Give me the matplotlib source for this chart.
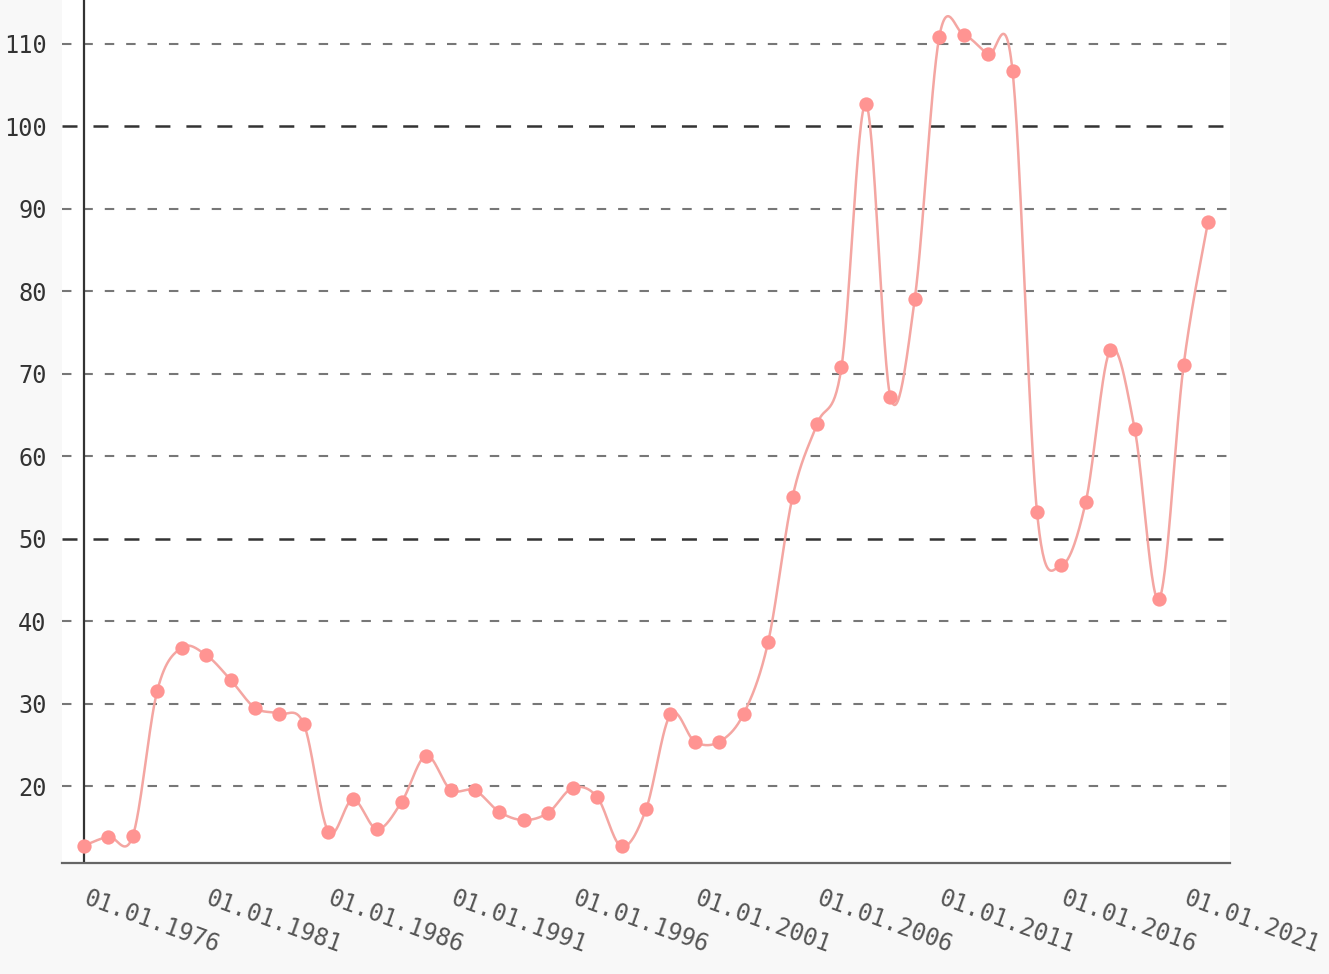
import numpy as np
import matplotlib
matplotlib.use("Agg")
import matplotlib.pyplot as plt
import matplotlib.transforms as mtransforms

years = list(range(1976, 2023))
values = [12.8, 13.9, 14.0, 31.6, 36.8, 35.9, 32.9, 29.5, 28.8, 27.5,
          14.5, 18.4, 14.8, 18.1, 23.7, 19.6, 19.5, 16.9, 15.9, 16.8,
          19.8, 18.7, 12.7, 17.2, 28.7, 25.4, 25.4, 28.8, 37.5, 55.1,
          63.9, 70.8, 102.7, 67.2, 79.1, 110.8, 111.1, 108.7, 106.7, 53.3,
          46.8, 54.5, 72.9, 63.3, 42.7, 71.0, 88.4]
tick_years = list(range(1976, 2022, 5))
tick_labels = ["01.01.%d" % y for y in tick_years]
grid_light = [20, 30, 40, 60, 70, 80, 90, 110]
grid_dark = [50, 100]
y_ticks = [20, 30, 40, 50, 60, 70, 80, 90, 100, 110]


def catmull_rom(x, y, n=30):
    x = np.asarray(x, float)
    y = np.asarray(y, float)
    px = np.concatenate([[x[0]], x, [x[-1]]])
    py = np.concatenate([[y[0]], y, [y[-1]]])
    xs, ys = [], []
    for i in range(1, len(px) - 2):
        t = np.linspace(0, 1, n, endpoint=False)
        m1x = (px[i + 1] - px[i - 1]) / 2
        m2x = (px[i + 2] - px[i]) / 2
        m1y = (py[i + 1] - py[i - 1]) / 2
        m2y = (py[i + 2] - py[i]) / 2
        h00 = 2 * t**3 - 3 * t**2 + 1
        h10 = t**3 - 2 * t**2 + t
        h01 = -2 * t**3 + 3 * t**2
        h11 = t**3 - t**2
        xs.append(h00 * px[i] + h10 * m1x + h01 * px[i + 1] + h11 * m2x)
        ys.append(h00 * py[i] + h10 * m1y + h01 * py[i + 1] + h11 * m2y)
    xs.append([x[-1]])
    ys.append([y[-1]])
    return np.concatenate(xs), np.concatenate(ys)


plt.rcParams['lines.scale_dashes'] = False
mono = 'DejaVu Sans Mono'

fig = plt.figure(figsize=(13.29, 9.74), dpi=100, facecolor='#f8f8f8')
ax = fig.add_axes([62 / 1329, 111 / 974, (1230 - 62) / 1329, 863 / 974])
ax.set_facecolor('white')

ax.set_xlim(1975.1, 2022.9)
ax.set_ylim(10.7, 115.3)

for g in grid_light:
    ax.axhline(g, color='#777777', lw=1.5, dashes=(6.8, 8.6), zorder=1)
for g in grid_dark:
    ax.axhline(g, color='#333333', lw=1.8, dashes=(10.8, 11.5), zorder=1)

ax.axvline(1976, color='#333333', lw=1.6, zorder=2)

sx, sy = catmull_rom(years, values)
ax.plot(sx, sy, color='#f4a6a2', lw=1.8, zorder=3)
ax.plot(years, values, 'o', color='#ff9492', ms=10.3, mec='none', zorder=4)

for s in ['top', 'right', 'left']:
    ax.spines[s].set_visible(False)
ax.spines['bottom'].set_color('#666666')
ax.spines['bottom'].set_linewidth(1.6)

ax.set_yticks(y_ticks)
ax.set_yticklabels([str(v) for v in y_ticks], fontfamily=mono, fontsize=17, color='#333333')
ax.tick_params(axis='y', length=0, pad=11)

ax.set_xticks(tick_years)
ax.set_xticklabels(tick_labels, fontfamily=mono, fontsize=17, color='#555555',
                   rotation=-20, ha='left', va='top', rotation_mode='anchor')
ax.tick_params(axis='x', length=0, pad=17)
offset = mtransforms.ScaledTranslation(5 / 100, 0, fig.dpi_scale_trans)
for lbl in ax.get_xticklabels():
    lbl.set_transform(lbl.get_transform() + offset)

fig.savefig('out.png', dpi=100, facecolor=fig.get_facecolor())
